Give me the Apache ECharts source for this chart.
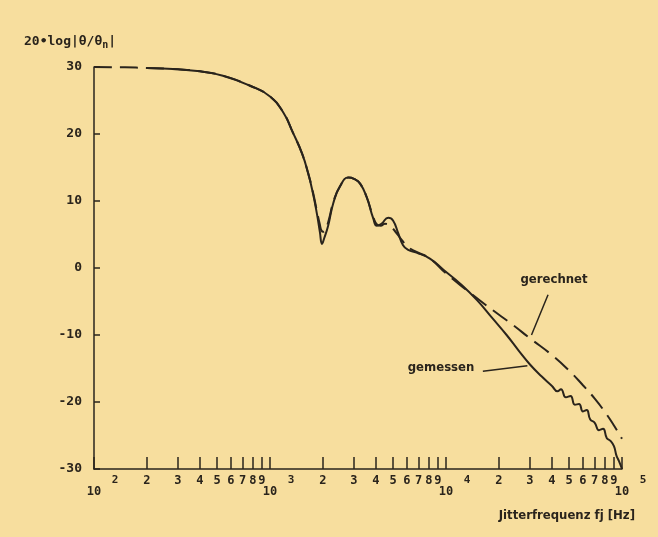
<!DOCTYPE html>
<html>
<head>
<meta charset="utf-8">
<script src="https://cdn.jsdelivr.net/npm/echarts@6/dist/echarts.min.js"></script>
<style>
  html, body { margin: 0; padding: 0; background: #F7DE9E; }
  #chart { width: 658px; height: 537px; }
</style>
</head>
<body>
<div id="chart"></div>
<script>
// gerechnet (dashed)
const calcFreq = [100, 150, 200, 300, 400, 540, 770, 1000, 1190, 1350, 1520, 1645, 1755, 1850, 1920, 1960, 2010, 2070, 2150, 2300, 2500, 2790, 3000, 3250, 3540, 3860, 4050, 4250, 4500, 4800, 5200, 5600, 6100, 6800, 8100, 10000, 13100, 17800, 24000, 30000, 40000, 50000, 60000, 70000, 80000, 90000, 100000]
const calcDb = [30.0, 29.95, 29.85, 29.65, 29.35, 28.7, 27.2, 25.6, 23.2, 20.2, 17.1, 14.2, 11.3, 8.4, 6.5, 5.6, 5.4, 5.8, 7.0, 10.0, 12.2, 13.5, 13.3, 12.6, 10.6, 7.6, 6.5, 6.3, 6.6, 6.3, 5.3, 4.2, 3.1, 2.4, 1.4, -0.8, -3.3, -6.0, -8.5, -10.5, -13.0, -15.3, -17.5, -19.5, -21.5, -23.5, -25.5]

// gemessen (solid)
const measFreq = [200, 300, 400, 540, 770, 1000, 1190, 1350, 1520, 1645, 1755, 1850, 1920, 1975, 2030, 2140, 2290, 2500, 2790, 3000, 3250, 3540, 3860, 4050, 4300, 4700, 5000, 5350, 5700, 6100, 6800, 8100, 9700, 12000, 15000, 18500, 22100, 26000, 30000, 35000, 40000, 43000, 45000, 48000, 51000, 54000, 57000, 60000, 63000, 66000, 70000, 74000, 78000, 82000, 86000, 90000, 93000, 96000, 100000]
const measDb = [29.85, 29.65, 29.35, 28.7, 27.2, 25.6, 23.2, 20.2, 17.1, 14.2, 11.1, 8.0, 5.4, 3.6, 4.4, 6.3, 9.7, 12.2, 13.5, 13.3, 12.6, 10.6, 7.4, 6.3, 6.6, 7.5, 7.1, 5.2, 3.4, 2.7, 2.3, 1.4, -0.3, -2.3, -4.8, -7.6, -10.0, -12.4, -14.4, -16.2, -17.6, -18.4, -18.1, -19.3, -19.1, -20.4, -20.3, -21.4, -21.2, -22.6, -23.1, -24.2, -24.0, -25.4, -25.8, -26.6, -28.0, -28.8, -30.0]

// tick labels
const decadeValues = [100, 1000, 10000, 100000]
const minorDigits = [2, 3, 4, 5, 6, 7, 8, 9]
const yTicks = [-30, -20, -10, 0, 10, 20, 30]

const ink = '#2a241c'
const mono = '"DejaVu Sans Mono", monospace'
const cond = '"DejaVu Sans Condensed", "DejaVu Sans", sans-serif'

// Positionen der Teilstriche (log10) für die Hilfsachse
const minorLog = []
decadeValues.slice(0, 3).forEach(d => {
    minorDigits.forEach(k => minorLog.push(Math.log10(d * k)))
})
const decadeLog = decadeValues.map(d => Math.log10(d))
const allTickLog = minorLog.concat(decadeLog).sort((a, b) => a - b)

const zip = (xs, ys) => xs.map((x, i) => [x, ys[i]])

const chart = echarts.init(document.getElementById('chart'))

const option = {
    animation: false,
    backgroundColor: '#F7DE9E',
    title: [
        {
            text: '20•log|θ/θ{s|n}|',
            left: 19,
            top: 29,
            textStyle: {
                fontFamily: mono, fontWeight: 'bold', fontSize: 13, color: ink,
                rich: { s: { fontFamily: mono, fontWeight: 'bold', fontSize: 10, color: ink, padding: [6, 0, 0, 0] } }
            }
        },
        {
            text: 'Jitterfrequenz fj [Hz]',
            right: 18,
            top: 504,
            textStyle: { fontFamily: cond, fontWeight: 'bold', fontSize: 13, color: ink }
        }
    ],
    grid: { left: 94, right: 36, top: 67, bottom: 68 },
    xAxis: [
        {
            type: 'log',
            logBase: 10,
            min: 100,
            max: 100000,
            position: 'bottom',
            axisLine: { onZero: false, lineStyle: { color: ink, width: 1.5 } },
            axisTick: { inside: true, length: 12, lineStyle: { color: ink, width: 1.5 } },
            splitLine: { show: false },
            minorTick: { show: false },
            axisLabel: {
                margin: 17,
                formatter: () => '10',
                fontFamily: mono, fontWeight: 'bold', fontSize: 12, color: ink
            }
        },
        {
            type: 'value',
            min: 2,
            max: 5,
            position: 'bottom',
            axisLine: { show: false, onZero: false },
            axisTick: { inside: true, length: 12, customValues: allTickLog, lineStyle: { color: ink, width: 1.5 } },
            splitLine: { show: false },
            axisLabel: {
                margin: 6,
                customValues: allTickLog,
                formatter: (v) => {
                    const e = Math.round(v)
                    if (Math.abs(v - e) < 1e-6) return '{e|' + e + '}'
                    return '{d|' + Math.round(Math.pow(10, v - Math.floor(v))) + '}'
                },
                rich: {
                    d: { fontFamily: mono, fontWeight: 'bold', fontSize: 12, color: ink },
                    e: { fontFamily: mono, fontWeight: 'bold', fontSize: 11, color: ink, padding: [0, 0, 2, 42] }
                }
            }
        }
    ],
    yAxis: {
        type: 'value',
        min: -30,
        max: 30,
        interval: 10,
        axisLine: { show: true, onZero: false, lineStyle: { color: ink, width: 1.5 } },
        axisTick: { show: true, inside: true, length: 6, lineStyle: { color: ink, width: 1.5 } },
        splitLine: { show: false },
        axisLabel: {
            margin: 12,
            formatter: (v) => yTicks.includes(v) ? String(v) : '',
            fontFamily: mono, fontWeight: 'bold', fontSize: 13, color: ink
        }
    },
    series: [
        {
            name: 'gemessen',
            type: 'line',
            xAxisIndex: 0,
            data: zip(measFreq, measDb),
            showSymbol: false,
            smooth: 0.5,
            lineStyle: { color: ink, width: 2 },
            markLine: {
                silent: true,
                symbol: 'none',
                label: { show: false },
                lineStyle: { color: ink, width: 1.5, type: 'solid' },
                data: [[{ coord: [16200, -15.4] }, { coord: [29000, -14.6] }]]
            },
            markPoint: {
                symbol: 'circle',
                symbolSize: 1,
                itemStyle: { color: 'rgba(0,0,0,0)' },
                label: { show: true, position: 'inside', formatter: '{b}', fontFamily: cond, fontWeight: 'bold', fontSize: 13, color: ink },
                data: [{ name: 'gemessen', coord: [9370, -14.9] }]
            }
        },
        {
            name: 'gerechnet',
            type: 'line',
            xAxisIndex: 0,
            data: zip(calcFreq, calcDb),
            showSymbol: false,
            smooth: 0.5,
            lineStyle: { color: ink, width: 2, type: [18, 8] },
            markLine: {
                silent: true,
                symbol: 'none',
                label: { show: false },
                lineStyle: { color: ink, width: 1.5, type: 'solid' },
                data: [[{ coord: [38000, -4.0] }, { coord: [30600, -10.0] }]]
            },
            markPoint: {
                symbol: 'circle',
                symbolSize: 1,
                itemStyle: { color: 'rgba(0,0,0,0)' },
                label: { show: true, position: 'inside', formatter: '{b}', fontFamily: cond, fontWeight: 'bold', fontSize: 13, color: ink },
                data: [{ name: 'gerechnet', coord: [41100, -1.8] }]
            }
        }
    ]
}

chart.setOption(option)
</script>
</body>
</html>
